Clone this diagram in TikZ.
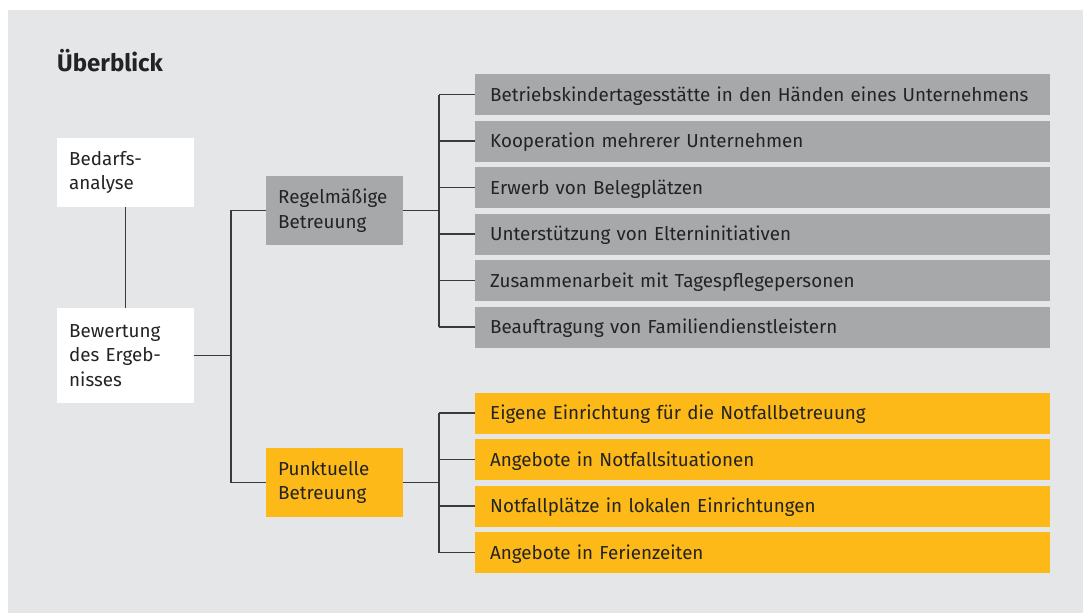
\documentclass[tikz,border=0pt]{standalone}
\usepackage{fontspec}
\setmainfont{Fira Sans}
\usepackage{tikz}

\definecolor{bggray}{HTML}{E5E6E8}
\definecolor{bargray}{HTML}{A7A8AA}
\definecolor{baryellow}{HTML}{FDB917}
\definecolor{txtdark}{HTML}{232323}
\definecolor{linedark}{HTML}{3A3A3A}

\begin{document}
\begin{tikzpicture}[x=1pt,y=-1pt,
    lbl/.style={anchor=west,inner xsep=12pt,inner ysep=0pt,align=left,
                text=txtdark,font=\fontsize{18.8}{24.5}\selectfont},
    whitebox/.style={lbl,fill=white,text width=113pt,minimum width=137pt},
    greybox/.style={lbl,fill=bargray,text width=113pt,minimum width=137pt,minimum height=69pt},
    yellowbox/.style={greybox,fill=baryellow},
    greybar/.style={lbl,fill=bargray,inner xsep=15pt,text width=545pt,minimum width=575pt,
                    minimum height=41pt,text height=13pt,text depth=0pt},
    yellowbar/.style={greybar,fill=baryellow},
    conn/.style={draw=linedark,line width=1.2pt}]
\useasboundingbox (0,0) rectangle (1083,613);
\fill[bggray] (8,10) rectangle (1083,613);

\node[anchor=base west,inner sep=0pt,text=txtdark,font=\fontsize{24}{28}\selectfont\bfseries]
    (title) at (57,71.5) {Überblick};

% linke Spalte
\node[whitebox,minimum height=69pt] (bedarf) at (57,172.5) {Bedarfs-\\analyse};
\node[whitebox,minimum height=95pt] (bewert) at (57,355.5) {Bewertung\\des Ergeb-\\nisses};
\draw[conn] (bedarf) -- (bewert);

% mittlere Spalte
\node[greybox] (regel) at (266,210.5) {Regelmäßige\\Betreuung};
\node[yellowbox] (punkt) at (266,482.5) {Punktuelle\\Betreuung};

\coordinate (fork) at (231,355.5);
\draw[conn] (bewert.east) -- (fork);
\draw[conn] (regel.west) -| (fork) |- (punkt.west);

% rechte Spalte
\node[greybar] (r1) at (475,94.5)  {Betriebskindertagesstätte in den Händen eines Unternehmens};
\node[greybar] (r2) at (475,141)   {Kooperation mehrerer Unternehmen};
\node[greybar] (r3) at (475,187.5) {Erwerb von Belegplätzen};
\node[greybar] (r4) at (475,234)   {Unterstützung von Elterninitiativen};
\node[greybar] (r5) at (475,280.5) {Zusammenarbeit mit Tagespflegepersonen};
\node[greybar] (r6) at (475,327)   {Beauftragung von Familiendienstleistern};

\node[yellowbar] (p1) at (475,413)   {Eigene Einrichtung für die Notfallbetreuung};
\node[yellowbar] (p2) at (475,459.5) {Angebote in Notfallsituationen};
\node[yellowbar] (p3) at (475,506)   {Notfallplätze in lokalen Einrichtungen};
\node[yellowbar] (p4) at (475,552.5) {Angebote in Ferienzeiten};

\coordinate (rfork) at (439,210.5);
\coordinate (pfork) at (439,482.5);
\draw[conn] (regel.east) -- (rfork);
\draw[conn] (punkt.east) -- (pfork);
\draw[conn] (rfork |- r1.west) -- (rfork |- r6.west);
\draw[conn] (pfork |- p1.west) -- (pfork |- p4.west);
\foreach \n in {r1,r2,r3,r4,r5,r6}
    \draw[conn] (rfork |- \n.west) -- (\n.west);
\foreach \n in {p1,p2,p3,p4}
    \draw[conn] (pfork |- \n.west) -- (\n.west);
\end{tikzpicture}
\end{document}
